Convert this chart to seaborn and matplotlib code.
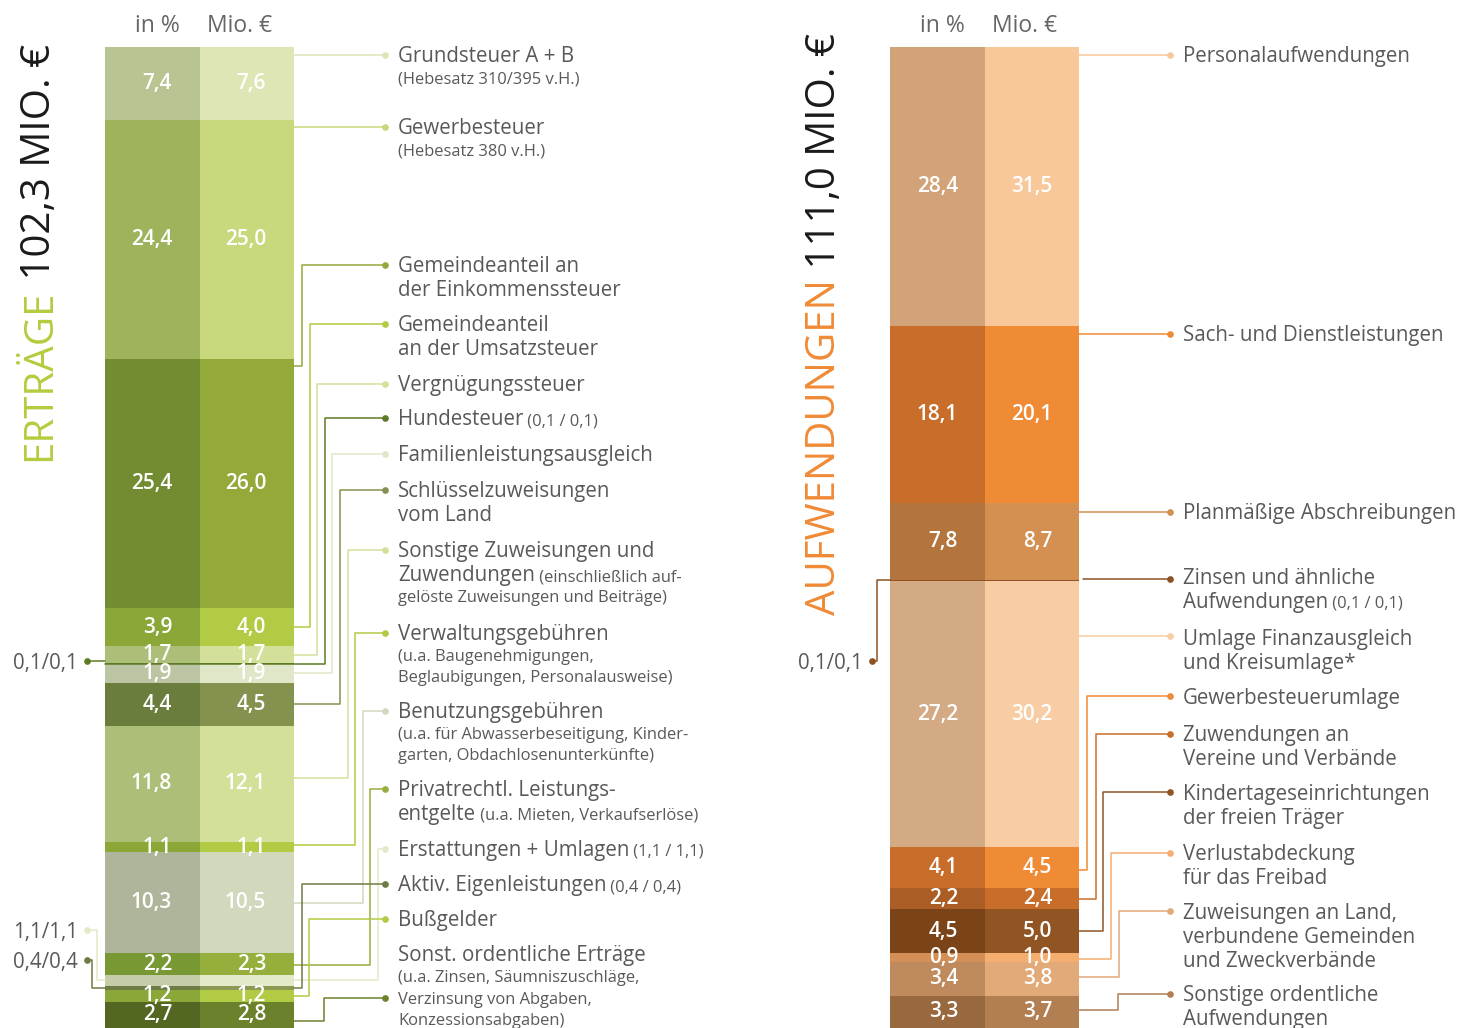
import numpy as np
import matplotlib
matplotlib.use('Agg')
import matplotlib.pyplot as plt
import matplotlib.transforms as mtransforms
import seaborn as sns

W, H = 1475, 1028

# --- Erträge (left block), top to bottom
ertr_pct = [7.4, 24.4, 25.4, 3.9, 1.7, 0.1, 1.9, 4.4, 11.8, 1.1, 10.3, 2.2, 1.1, 0.4, 1.2, 2.7]
ertr_mio = [7.6, 25.0, 26.0, 4.0, 1.7, 0.1, 1.9, 4.5, 12.1, 1.1, 10.5, 2.3, 1.1, 0.4, 1.2, 2.8]
ertr_labels = [
    ["Grundsteuer A + B", "|(Hebesatz 310/395 v.H.)"],
    ["Gewerbesteuer", "|(Hebesatz 380 v.H.)"],
    ["Gemeindeanteil an", "der Einkommenssteuer"],
    ["Gemeindeanteil", "an der Umsatzsteuer"],
    ["Vergnügungssteuer"],
    ["Hundesteuer| (0,1 / 0,1)"],
    ["Familienleistungsausgleich"],
    ["Schlüsselzuweisungen", "vom Land"],
    ["Sonstige Zuweisungen und", "Zuwendungen| (einschließlich auf-", "|gelöste Zuweisungen und Beiträge)"],
    ["Verwaltungsgebühren", "|(u.a. Baugenehmigungen,", "|Beglaubigungen, Personalausweise)"],
    ["Benutzungsgebühren", "|(u.a. für Abwasserbeseitigung, Kinder-", "|garten, Obdachlosenunterkünfte)"],
    ["Privatrechtl. Leistungs-", "entgelte| (u.a. Mieten, Verkaufserlöse)"],
    ["Erstattungen + Umlagen| (1,1 / 1,1)"],
    ["Aktiv. Eigenleistungen| (0,4 / 0,4)"],
    ["Bußgelder"],
    ["Sonst. ordentliche Erträge", "|(u.a. Zinsen, Säumniszuschläge,", "|Verzinsung von Abgaben,", "|Konzessionsabgaben)"],
]
ertr_col_pct = ['#b8c592', '#9fb35c', '#738b31', '#8ba737', '#adbe78', '#5e7a26', '#bbc4a3', '#6a7d3c',
                '#adbe78', '#8ba737', '#afb59a', '#789834', '#c5cda8', '#6d7c45', '#8ba737', '#536622']
ertr_col_mio = ['#dee6b5', '#c8d87c', '#93aa3b', '#b1cb44', '#d3e09a', '#5e7a26', '#e0e7c8', '#84924f',
                '#d3e09a', '#b1cb44', '#d2d8bc', '#96ae3c', '#e3eac9', '#8a9a55', '#b1cb44', '#6c812c']
ertr_line = ['#dee6b5', '#c8d87c', '#93aa3b', '#b1cb44', '#d3e09a', '#5e7a26', '#e0e7c8', '#84924f',
             '#d3e09a', '#b1cb44', '#d2d8bc', '#96ae3c', '#e3eac9', '#6d7c45', '#b1cb44', '#6c812c']

# --- Aufwendungen (right block)
aufw_pct = [28.4, 18.1, 7.8, 0.1, 27.2, 4.1, 2.2, 4.5, 0.9, 3.4, 3.3]
aufw_mio = [31.5, 20.1, 8.7, 0.1, 30.2, 4.5, 2.4, 5.0, 1.0, 3.8, 3.7]
aufw_labels = [
    ["Personalaufwendungen"],
    ["Sach- und Dienstleistungen"],
    ["Planmäßige Abschreibungen"],
    ["Zinsen und ähnliche", "Aufwendungen| (0,1 / 0,1)"],
    ["Umlage Finanzausgleich", "und Kreisumlage*"],
    ["Gewerbesteuerumlage"],
    ["Zuwendungen an", "Vereine und Verbände"],
    ["Kindertageseinrichtungen", "der freien Träger"],
    ["Verlustabdeckung", "für das Freibad"],
    ["Zuweisungen an Land,", "verbundene Gemeinden", "und Zweckverbände"],
    ["Sonstige ordentliche", "Aufwendungen"],
]
aufw_col_pct = ['#d2a379', '#c96e2a', '#b3743d', '#8b5225', '#d4aa85', '#c96e2a', '#aa5d24', '#7a4318',
                '#d38f55', '#bf8b5e', '#98693f']
aufw_col_mio = ['#f8c89a', '#ef8a35', '#d49051', '#8b5225', '#f8cda3', '#ef8a35', '#c96e2a', '#905522',
                '#f4ae6f', '#e2aa78', '#b27f52']
aufw_line = ['#f8c89a', '#ef8a35', '#d49051', '#8b5225', '#f8cda3', '#ef8a35', '#c96e2a', '#905522',
             '#f4ae6f', '#e2aa78', '#b27f52']

# layout (pixels): label rows, dot rows, elbow columns, attach fraction in segment
ertr_text_y = [55, 127, 265, 324, 384, 418, 454, 490, 550, 633, 711, 789, 849, 884, 919, 954]
ertr_dot_y = [55, 127, 265, 324, 384, 418, 454, 490, 550, 633, 711, 789, 849, 884, 919, 998]
ertr_elbow = [None, None, 302, 310, 317, 325, 332, 340, 348, 355, 363, 370, 378, 302, 309, 324]
ertr_frac = [.5, .5, .03, .5, .5, .5, .5, .5, .45, .3, .5, .55, .5, .5, .5, .75]
ertr_side = {5: ("0,1/0,1", 661, None), 12: ("1,1/1,1", 930, 97), 13: ("0,4/0,4", 960, 92)}

aufw_text_y = [55, 334, 512, 577, 638, 697, 734, 793, 853, 912, 994]
aufw_dot_y = [55, 334, 512, 579, 636, 696, 734, 792, 853, 911, 994]
aufw_elbow = [None, None, None, None, None, 1087, 1096, 1103, 1111, 1119, 1118]
aufw_frac = [.5, .5, .5, .5, .5, .55, .5, .5, .65, .45, .45]
aufw_side = {3: ("0,1/0,1", 661, 877)}

sns.set_theme(style='white')
plt.rcParams['font.family'] = ['Open Sans', 'DejaVu Sans']

fig = plt.figure(figsize=(W / 100, H / 100), dpi=100)
ax = fig.add_axes([0, 0, 1, 1])
ax.set_xlim(0, W)
ax.set_ylim(100, -47 * 100 / (1028 - 47))
ax.axis('off')
P = mtransforms.Affine2D().scale(1, -1).translate(0, H)  # pixel coords, origin top-left
R = fig.canvas.get_renderer()
TXT = '#595959'
BIG, SMALL = 14.8, 11.9


def row(v):
    return H - ax.transData.transform((0, v))[1]


def fmt(v):
    return f"{v:.1f}".replace('.', ',')


def write_label(x, y, lines):
    for k, line in enumerate(lines):
        big, _, small = line.partition('|')
        xx = x
        if big:
            t = ax.text(xx, y + 7, big, transform=P, fontsize=BIG, color=TXT, va='baseline', ha='left')
            xx += t.get_window_extent(R).width
        if small:
            ax.text(xx, y + (7 if big else 5), small, transform=P, fontsize=SMALL, color=TXT,
                    va='baseline', ha='left')
        if k + 1 < len(lines):
            nxt_small = lines[k + 1].startswith('|')
            y += (23 if big else 21.5) if nxt_small else 24


def block(pct, mio, cp, cm, labels, tcol, text_y, dot_y, elbow, frac, side, xs, dot_x, val_x):
    pct = np.array(pct)
    bottoms = np.concatenate([[0], np.cumsum(pct)[:-1]])
    ax.bar((xs[0] + xs[1]) / 2, pct, bottom=bottoms, width=xs[1] - xs[0], color=cp, linewidth=0)
    ax.bar((xs[1] + xs[2]) / 2, pct, bottom=bottoms, width=xs[2] - xs[1], color=cm, linewidth=0)
    for i in range(len(pct)):
        if i not in side:
            mid = bottoms[i] + pct[i] / 2
            ax.text(val_x[0], mid, fmt(pct[i]), ha='right', va='center', color='white',
                    fontsize=15, fontweight='semibold')
            ax.text(val_x[1], mid, fmt(mio[i]), ha='right', va='center', color='white',
                    fontsize=15, fontweight='semibold')
        attach = row(bottoms[i] + pct[i] * frac[i])
        start = xs[2]
        if i in side:
            txt, sy, sx = side[i]
            ax.text(xs[0] - 27, sy, txt, transform=P, ha='right', va='center_baseline',
                    fontsize=BIG, color=TXT)
            if sx is None:
                ax.plot([xs[0] - 18, xs[0]], [sy, sy], transform=P, color=tcol[i], lw=1.1)
                start = xs[0]
            else:
                ax.plot([xs[0] - 18, sx, sx, xs[0]], [sy, sy, attach, attach], transform=P,
                        color=tcol[i], lw=1.1)
            ax.plot(xs[0] - 18, sy, 'o', ms=3.8, color=tcol[i], transform=P)
        if elbow[i] is None:
            ax.plot([start + (4 if i in side else 0), dot_x], [dot_y[i], dot_y[i]], transform=P,
                    color=tcol[i], lw=1.1)
        else:
            ax.plot([start, elbow[i], elbow[i], dot_x], [attach, attach, dot_y[i], dot_y[i]],
                    transform=P, color=tcol[i], lw=1.1, zorder=3)
        ax.plot(dot_x, dot_y[i], 'o', ms=3.8, color=tcol[i], transform=P)
        write_label(dot_x + 13, text_y[i], labels[i])


block(ertr_pct, ertr_mio, ertr_col_pct, ertr_col_mio, ertr_labels, ertr_line,
      ertr_text_y, ertr_dot_y, ertr_elbow, ertr_frac, ertr_side, (105, 200, 294), 385, (172, 266))
block(aufw_pct, aufw_mio, aufw_col_pct, aufw_col_mio, aufw_labels, aufw_line,
      aufw_text_y, aufw_dot_y, aufw_elbow, aufw_frac, aufw_side, (890, 985, 1079), 1170, (958, 1052))

# column headers
for cx, txt in [(157, "in %"), (240, "Mio. €"), (942, "in %"), (1025, "Mio. €")]:
    ax.text(cx, 23, txt, transform=P, ha='center', va='center_baseline', fontsize=16.5, color='#666666')

# rotated titles
for x, y, word, rest, col in [(50, 461, "ERTRÄGE", " 102,3 MIO. €", '#b5cc3e'),
                              (835, 615, "AUFWENDUNGEN", " 111,0 MIO. €", '#f08a35')]:
    t = ax.text(x, y, word, transform=P, rotation=90, rotation_mode='anchor', ha='left', va='baseline',
                fontsize=29, color=col)
    h = t.get_window_extent(R).height
    ax.text(x, y - h, rest, transform=P, rotation=90, rotation_mode='anchor', ha='left', va='baseline',
            fontsize=29, color='#1a1a1a')

fig.savefig('out.png', dpi=100)
